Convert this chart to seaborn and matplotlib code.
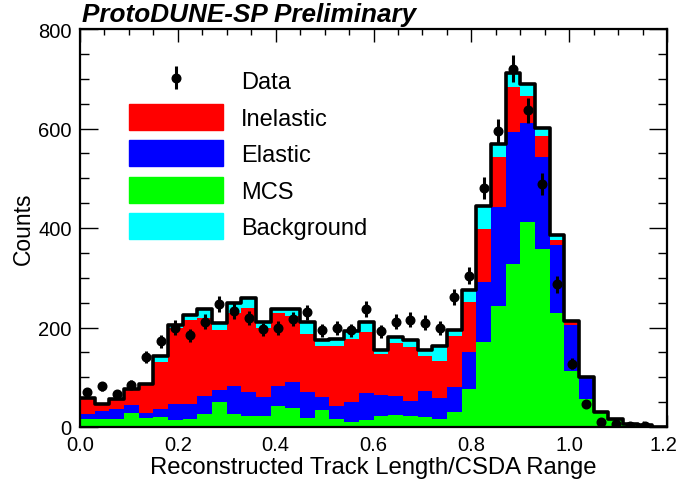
import numpy as np
import pandas as pd
import matplotlib
matplotlib.use("Agg")
import matplotlib.pyplot as plt
import matplotlib.transforms as mtransforms
from matplotlib.patches import Patch
from matplotlib.ticker import MultipleLocator, FormatStrFormatter
import seaborn as sns

# ---------------- data ----------------
bin_low = 0.0
bin_high = 1.2
n_bins = 40

mcs = [16, 17, 17, 29, 19, 21, 14, 16, 26, 50,
       26, 23, 23, 42, 39, 19, 34, 16, 11, 15,
       23, 24, 23, 20, 17, 30, 76, 170, 244, 328,
       413, 358, 230, 113, 56, 29, 15, 6, 4, 1]
elastic = [10, 16, 20, 16, 9, 15, 32, 30, 37, 24,
           57, 47, 38, 40, 51, 51, 26, 27, 39, 53,
           42, 39, 30, 53, 41, 50, 74, 121, 198, 264,
           199, 184, 135, 92, 42, 0, 0, 0, 0, 0]
inelastic = [32, 12, 18, 30, 57, 94, 154, 169, 157, 120,
             147, 170, 139, 148, 134, 117, 103, 120, 127, 123,
             82, 105, 107, 70, 75, 102, 101, 107, 100, 91,
             54, 42, 10, 6, 1, 0, 0, 0, 0, 0]
background = [1, 1, 1, 1, 1, 12, 6, 11, 17, 16,
              19, 19, 12, 7, 14, 24, 12, 13, 15, 20,
              8, 13, 14, 12, 30, 13, 25, 46, 27, 29,
              23, 17, 11, 3, 2, 1, 1, 0, 0, 0]
data = [70, 82, 66, 85, 140, 172, 200, 184, 212, 247,
        233, 219, 196, 198, 217, 231, 194, 198, 194, 237,
        192, 212, 216, 210, 198, 262, 304, 480, 595, 720,
        637, 488, 287, 127, 47, 11, 6, 3, 3, 0]

components = ["Background", "Inelastic", "Elastic", "MCS"]
component_values = {"MCS": mcs, "Elastic": elastic,
                    "Inelastic": inelastic, "Background": background}
palette = {"Inelastic": "#ff0000", "Elastic": "#0000ff",
           "MCS": "#00ff00", "Background": "#00ffff"}
legend_labels = ["Data", "Inelastic", "Elastic", "MCS", "Background"]

edges = [float(e) for e in np.linspace(bin_low, bin_high, n_bins + 1)]
centers = [0.5 * (a + b) for a, b in zip(edges[:-1], edges[1:])]

rows = []
for comp in components:
    for c, v in zip(centers, component_values[comp]):
        rows.append({"x": c, "w": float(v), "comp": comp})
df = pd.DataFrame(rows)
total = np.sum([component_values[c] for c in components], axis=0)
df_tot = pd.DataFrame({"x": centers, "w": total.astype(float)})
df_data = pd.DataFrame({"x": centers, "n": data})
df_data = df_data[df_data["n"] > 0]

# ---------------- style ----------------
sns.set_style("ticks")
plt.rcParams["font.family"] = ["Liberation Sans", "DejaVu Sans"]
for key in ["text.color", "axes.labelcolor", "xtick.color", "ytick.color",
            "xtick.labelcolor", "ytick.labelcolor", "axes.edgecolor"]:
    plt.rcParams[key] = "black"

fig = plt.figure(figsize=(6.81, 4.85), dpi=100)
ax = fig.add_axes([80 / 681, 57 / 485, 587 / 681, 398 / 485])

sns.histplot(data=df, x="x", weights="w", hue="comp", hue_order=components,
             multiple="stack", bins=edges, element="step", fill=True,
             palette=palette, alpha=1, linewidth=0, legend=False, ax=ax)
sns.histplot(data=df_tot, x="x", weights="w", bins=edges, element="step",
             fill=False, color="black", linewidth=2.6, legend=False, ax=ax)

eb = ax.errorbar(df_data["x"], df_data["n"], yerr=np.sqrt(df_data["n"]),
                 fmt="o", color="black", markersize=6.2, elinewidth=2.2,
                 capsize=0, zorder=5)

ax.set_xlim(bin_low, bin_high)
ax.set_ylim(0, 800)
ax.xaxis.set_major_locator(MultipleLocator(0.2))
ax.xaxis.set_minor_locator(MultipleLocator(0.05))
ax.yaxis.set_major_locator(MultipleLocator(200))
ax.yaxis.set_minor_locator(MultipleLocator(50))
ax.xaxis.set_major_formatter(FormatStrFormatter("%.1f"))
ax.tick_params(which="both", top=True, right=True, direction="in",
               color="black", labelcolor="black", width=1.0,
               labelsize=14.5, pad=6)
ax.tick_params(axis="x", which="major", length=9)
ax.tick_params(axis="x", which="minor", length=4.5)
ax.tick_params(axis="y", which="major", length=13)
ax.tick_params(axis="y", which="minor", length=6.5)
for s in ax.spines.values():
    s.set_linewidth(1.6)
    s.set_color("black")

ax.set_xlabel("Reconstructed Track Length/CSDA Range", fontsize=17.2,
              labelpad=1, color="black")
ax.set_ylabel("Counts", fontsize=16.5, labelpad=2.5, color="black")
ax.set_title("ProtoDUNE-SP Preliminary", fontsize=18.8, fontweight="bold",
             fontstyle="italic", loc="left", pad=6, x=0.004, color="black")

handles = [eb] + [Patch(facecolor=palette[c], edgecolor=palette[c])
                  for c in legend_labels[1:]]
leg = ax.legend(handles, legend_labels, loc="upper left",
                bbox_to_anchor=(129 / 681, (485 - 68) / 485),
                bbox_transform=fig.transFigure, frameon=False,
                fontsize=17, handlelength=4.0, handleheight=1.34,
                handletextpad=0.75, labelspacing=0.43, borderpad=0,
                borderaxespad=0)
for t in leg.get_texts():
    t.set_color("black")

fig.canvas.draw()
shift = mtransforms.ScaledTranslation(-4 / 100, 0, fig.dpi_scale_trans)
for tick in ax.xaxis.get_major_ticks():
    if abs(tick.get_loc() - bin_high) < 1e-6:
        tick.label1.set_transform(tick.label1.get_transform() + shift)

fig.savefig("out.png", dpi=100)
